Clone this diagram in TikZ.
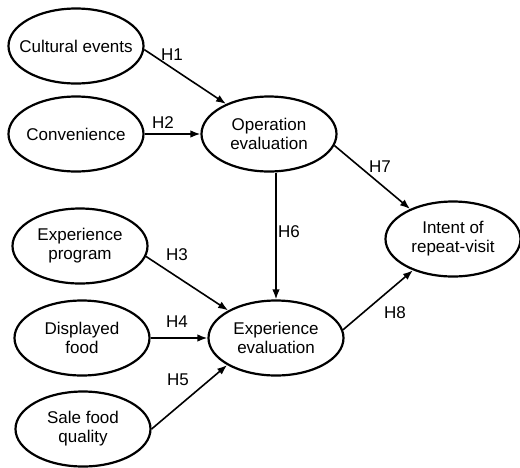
\documentclass[tikz,border=0pt]{standalone}
\usepackage{fontspec}
\setmainfont{Liberation Sans}
\usetikzlibrary{shapes.geometric,arrows.meta}
\tikzset{
  ell/.style={ellipse, draw, line width=2.2pt, minimum width=135pt, minimum height=75pt, inner sep=0pt},
  lbl/.style={align=center, inner sep=0pt, font=\fontsize{17}{19}\selectfont},
  hyp/.style={inner sep=0pt, font=\fontsize{17}{19}\selectfont},
  arr/.style={line width=1.6pt, -{Latex[length=10pt,width=7.5pt]}}
}
\begin{document}
\begin{tikzpicture}[x=1pt,y=-1pt]
\useasboundingbox (0,0) rectangle (520,467);
\node[ell, label={[lbl]center:Cultural events}] (ce) at (76,46) {};
\node[ell, label={[lbl]center:Convenience}] (cv) at (76,134) {};
\node[ell, label={[lbl]center:Operation\\evaluation}] (oe) at (269,134) {};
\node[ell, label={[lbl]center:Intent of\\repeat-visit}] (iv) at (453,239) {};
\node[ell, label={[lbl]center:Experience\\program}] (ep) at (80,246) {};
\node[ell, label={[lbl]center:Displayed\\food}] (df) at (82,338) {};
\node[ell, label={[lbl]center:Sale food\\quality}] (sf) at (83,429) {};
\node[ell, label={[lbl]center:Experience\\evaluation}] (ee) at (276,338) {};

\draw[arr] (ce.-3) -- (oe.145);
\draw[arr] (cv.east) -- (oe.west);
\draw[arr] (ep.-9) -- (ee.150);
\draw[arr] (df.east) -- (ee.west);
\draw[arr] (sf.0) -- (ee.209);
\draw[arr] (oe.south -| ee.north) -- (ee.north);
\draw[arr] (oe.-10) -- (iv.145);
\draw[arr] (ee.7) -- (iv.218);

\node[hyp] (h1) at (172,55) {H1};
\node[hyp] (h2) at (163,123) {H2};
\node[hyp] (h3) at (177,255) {H3};
\node[hyp] (h4) at (177,322) {H4};
\node[hyp] (h5) at (178,380) {H5};
\node[hyp] (h6) at (289,232) {H6};
\node[hyp] (h7) at (380,167) {H7};
\node[hyp] (h8) at (395,313) {H8};
\end{tikzpicture}
\end{document}
